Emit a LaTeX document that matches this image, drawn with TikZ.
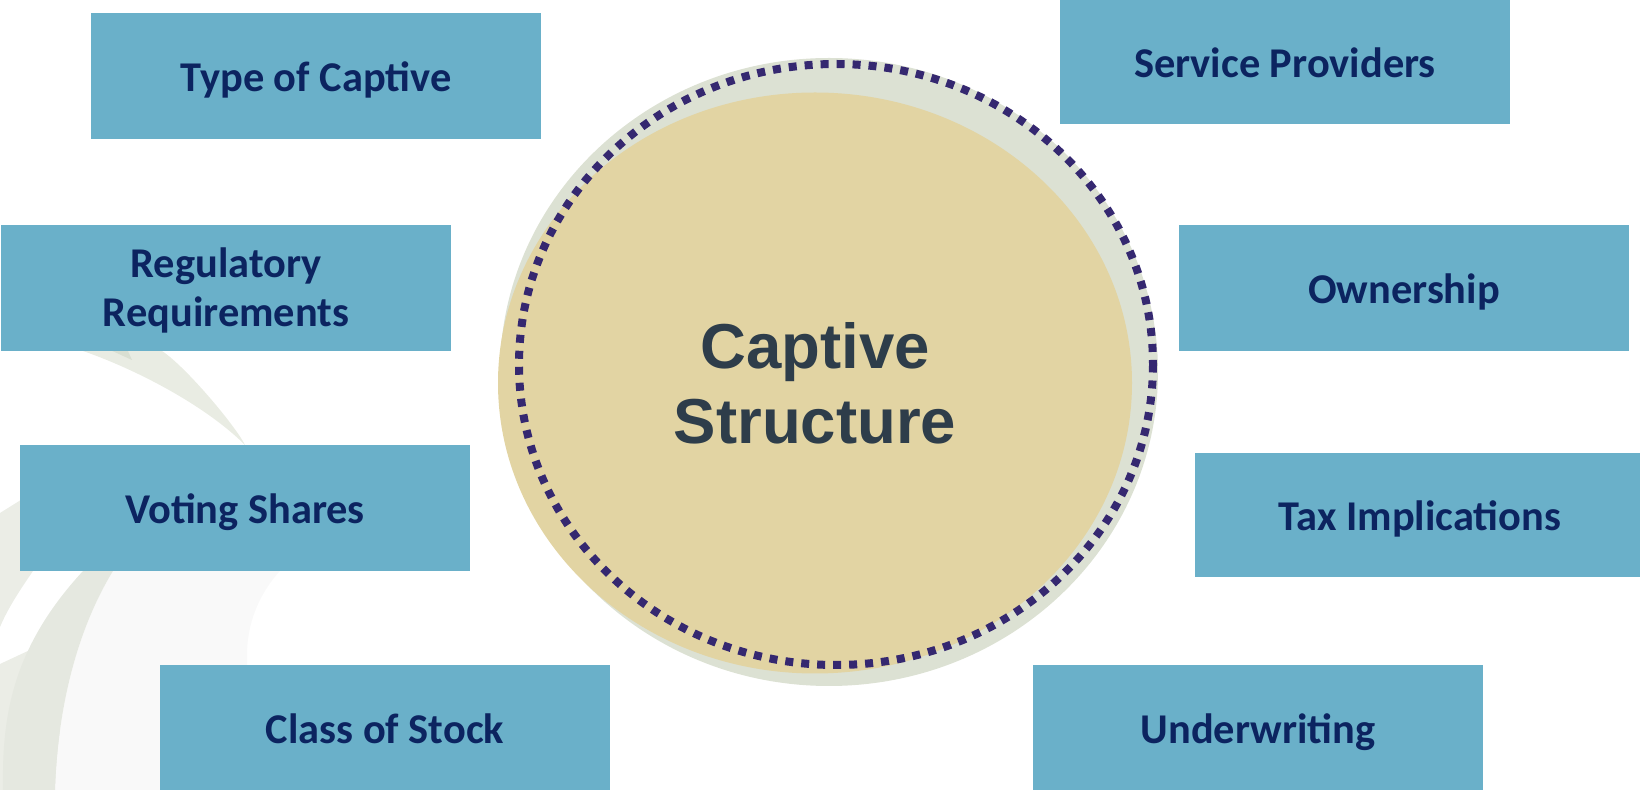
\documentclass[tikz,border=0pt]{standalone}
\usepackage{fontspec}
\setmainfont{Carlito}
\newfontfamily\hubfont{Liberation Sans}
\usetikzlibrary{shapes.geometric}

\definecolor{tilefill}{RGB}{106,176,201}
\definecolor{tiletext}{RGB}{12,36,96}
\definecolor{halo}{RGB}{220,225,211}
\definecolor{sand}{RGB}{226,212,163}
\definecolor{beadline}{RGB}{53,40,112}
\definecolor{hubtext}{RGB}{46,61,74}
\definecolor{swirlA}{RGB}{235,237,230}
\definecolor{swirlB}{RGB}{229,232,224}
\definecolor{swirlC}{RGB}{249,249,249}
\definecolor{swirlD}{RGB}{233,236,227}
\definecolor{swirlE}{RGB}{217,223,210}

\begin{document}
\begin{tikzpicture}[x=0.5pt,y=-0.5pt,
  tile/.style={rectangle, fill=tilefill, draw=none, minimum width=225pt,
    minimum height=63pt, inner sep=0pt, text=tiletext, align=center,
    font=\bfseries\fontsize{21.2}{24.5}\selectfont},
  tileone/.style={tile, text height=16pt, text depth=0pt},
  hubstyle/.style={ellipse, fill=sand, draw=none, minimum width=317pt,
    minimum height=290.5pt, inner sep=0pt, text=hubtext, align=center,
    font=\hubfont\bfseries\fontsize{31.75}{37.5}\selectfont},
  beads/.style={draw=beadline, line width=4pt, dash pattern=on 4pt off 4pt}
  ]
\useasboundingbox (0,0) rectangle (1640,790);

% soft background swirl, lower left
\fill[swirlA] (0,513) -- (40,488) -- (60,540) -- (36,566) -- (33,571)
  .. controls (20,590) and (8,608) .. (0,627) -- cycle;
\fill[swirlA] (0,664) -- (30,650) -- (60,650) -- (60,790) -- (0,790) -- cycle;
\fill[swirlC] (113,571) -- (280,571) .. controls (258,595) and (247,625) .. (247,655)
  -- (247,790) -- (55,790) .. controls (58,700) and (80,625) .. (113,571) -- cycle;
\fill[swirlB] (83,571) -- (88,560) -- (118,560) -- (113,571)
  .. controls (80,625) and (58,700) .. (55,790) -- (3,790)
  .. controls (2,720) and (10,650) .. (83,571) -- cycle;
\fill[swirlD] (83,351) .. controls (135,369) and (205,405) .. (245,445)
  .. controls (235,425) and (185,366) .. (162,351) -- (162,345) -- (83,345) -- cycle;
\fill[swirlE] (108,349) -- (132,360) -- (127,349) -- cycle;

% central disc with its halo and beaded rim
\fill[halo] (829,372) ellipse [x radius=329, y radius=314];
\node[hubstyle] (hub) at (815,383) {Captive\\Structure};
\path[beads] (836,364.5) ellipse [x radius=317, y radius=300.5];

% surrounding topic tiles
\node[tileone] (type)  at (316,76)   {Type of Captive};
\node[tileone, minimum height=62.5pt] (serv) at (1285,62) {Service Providers};
\node[tile]    (reg)   at (226,288)  {\rule{0pt}{17.5pt}Regulatory\\Requirements};
\node[tileone] (own)   at (1404,288) {Ownership};
\node[tileone] (vote)  at (245,508)  {Voting Shares};
\node[tileone, minimum height=62pt] (tax) at (1420,515) {Tax Implications};
\node[tileone] (stock) at (385,728)  {Class of Stock};
\node[tileone] (under) at (1258,728) {Underwriting};
\end{tikzpicture}
\end{document}
